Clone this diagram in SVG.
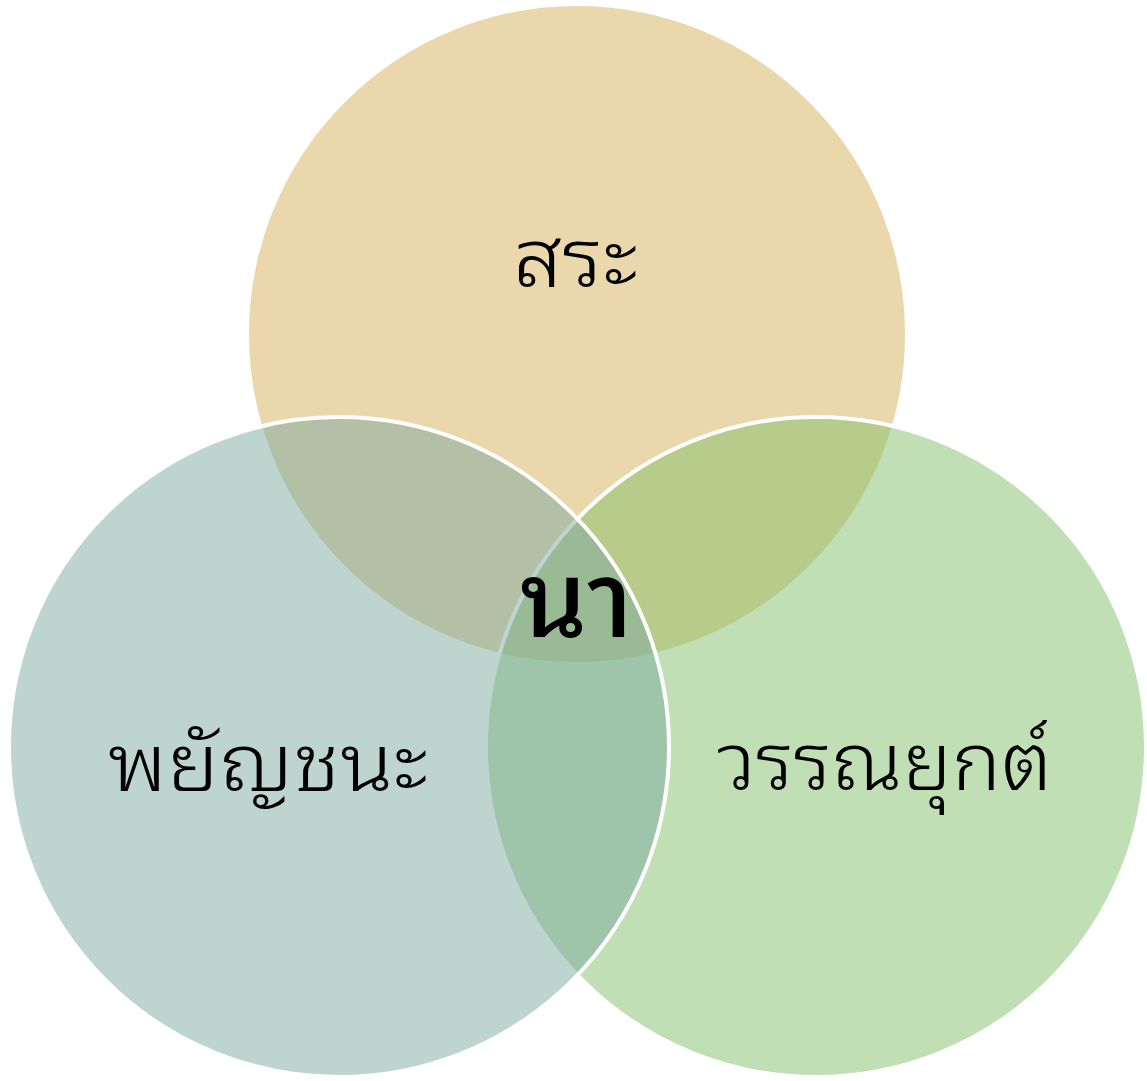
<svg xmlns="http://www.w3.org/2000/svg" width="1147" height="1081" viewBox="0 0 1147 1081">
<style>
.c{stroke:#ffffff;stroke-width:4}
.t{font-family:"Noto Sans Thai Looped","Noto Sans Thai",sans-serif;fill:#000;text-anchor:middle;font-weight:350}
</style>
<rect width="1147" height="1081" fill="#ffffff"/>
<g id="top"><circle class="c" cx="577" cy="334" r="330" fill="rgb(213,175,87)" fill-opacity="0.5"/></g>
<g id="right"><circle class="c" cx="816" cy="747" r="330" fill="rgb(131,191,107)" fill-opacity="0.5"/></g>
<g id="left"><circle class="c" cx="339" cy="747" r="330" fill="rgb(123,169,159)" fill-opacity="0.5"/></g>
<g id="labels">
<text class="t" x="575.5" y="287" font-size="82" textLength="125" lengthAdjust="spacingAndGlyphs">สระ</text>
<text class="t" x="268" y="791" font-size="80" textLength="320" lengthAdjust="spacingAndGlyphs">พยัญชนะ</text>
<text class="t" x="884.5" y="790" font-size="80" textLength="335" lengthAdjust="spacingAndGlyphs">วรรณยุกต์</text>
<text class="t" x="576.5" y="637" font-size="106" style="font-weight:500" textLength="113" lengthAdjust="spacingAndGlyphs">นา</text>
</g>
</svg>
